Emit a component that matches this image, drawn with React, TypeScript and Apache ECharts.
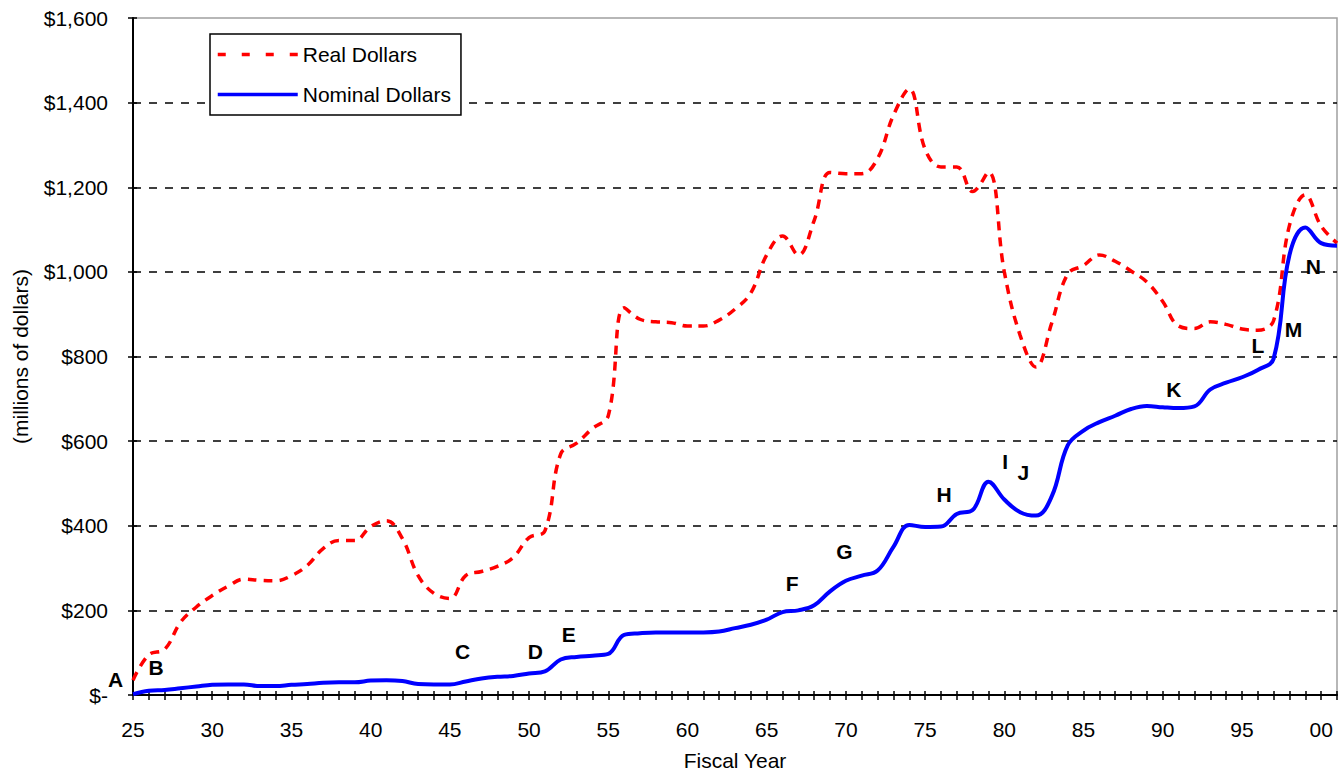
import { useEffect, useRef } from 'react';
import * as echarts from 'echarts';

const years = [
  1925, 1926, 1927, 1928, 1929, 1930, 1931, 1932, 1933, 1934,
  1935, 1936, 1937, 1938, 1939, 1940, 1941, 1942, 1943, 1944,
  1945, 1946, 1947, 1948, 1949, 1950, 1951, 1952, 1953, 1954,
  1955, 1956, 1957, 1958, 1959, 1960, 1961, 1962, 1963, 1964,
  1965, 1966, 1967, 1968, 1969, 1970, 1971, 1972, 1973, 1974,
  1975, 1976, 1977, 1978, 1979, 1980, 1981, 1982, 1983, 1984,
  1985, 1986, 1987, 1988, 1989, 1990, 1991, 1992, 1993, 1994,
  1995, 1996, 1997, 1998, 1999, 2000, 2001,
];

const realDollars = [
  35, 95, 108, 172, 208, 235, 257, 274, 271, 270,
  282, 306, 346, 365, 365, 398, 412, 370, 282, 240,
  228, 282, 292, 304, 325, 372, 388, 570, 595, 630,
  660, 915, 888, 882, 880, 872, 872, 886, 912, 950,
  1040, 1085, 1040, 1122, 1235, 1232, 1232, 1268, 1370, 1432,
  1290, 1248, 1248, 1190, 1236, 1000, 850, 775, 880, 995,
  1015, 1040, 1025, 1002, 976, 930, 872, 866, 882, 876,
  865, 862, 885, 1110, 1182, 1108, 1068,
];

const nominalDollars = [
  2, 10, 12, 16, 20, 24, 25, 25, 21, 21,
  24, 26, 29, 30, 30, 34, 35, 33, 26, 25,
  25, 32, 39, 43, 45, 51, 56, 84, 90, 93,
  97, 142, 146, 148, 148, 148, 148, 150, 158, 166,
  178, 196, 200, 212, 245, 270, 282, 294, 350, 402,
  397, 398, 428, 437, 504, 462, 432, 424, 470, 590,
  625, 645, 660, 676, 683, 680, 678, 682, 722, 738,
  751, 768, 795, 1040, 1105, 1068, 1062,
];

const noteLetters = ['A', 'B', 'C', 'D', 'E', 'F', 'G', 'H', 'I', 'J', 'K', 'L', 'M', 'N'];
const noteYears = [1923.9, 1926.45, 1945.8, 1950.4, 1952.5, 1966.6, 1969.9, 1976.2, 1980.05, 1981.2, 1990.7, 1996.0, 1998.25, 1999.5];
const noteValues = [37, 66, 103, 103, 143, 263, 338, 474, 551, 526, 723, 826, 864, 1012];

const yTicks = [0, 200, 400, 600, 800, 1000, 1200, 1400, 1600];

const FONT = 'Arial, "Liberation Sans", sans-serif';

export default function App() {
  const ref = useRef<HTMLDivElement>(null);

  useEffect(() => {
    if (!ref.current) return;
    const chart = echarts.init(ref.current, undefined, { renderer: 'svg' });

    const xLabel = (v: number) => (v % 5 === 0 && v <= 2000 ? String(v % 100).padStart(2, '0') : '');
    const yLabel = (v: number) => (v === 0 ? '$-' : '$' + v.toLocaleString('en-US'));

    const option: any = {
      animation: false,
      backgroundColor: '#ffffff',
      textStyle: { fontFamily: FONT },
      grid: {
        left: 133,
        top: 18,
        right: 5,
        bottom: 76,
        show: true,
        borderColor: '#a0a0a0',
        borderWidth: 1.5,
        backgroundColor: 'transparent',
      },
      legend: {
        orient: 'vertical',
        left: 210,
        top: 34,
        padding: [10, 10, 10, 6],
        itemWidth: 80,
        itemHeight: 20,
        itemGap: 19,
        borderColor: '#000',
        borderWidth: 1.5,
        borderRadius: 0,
        backgroundColor: '#ffffff',
        textStyle: { fontSize: 21, color: '#000', fontFamily: FONT },
        itemStyle: { opacity: 0 },
        data: [
          { name: 'Real Dollars', lineStyle: { type: [8, 16], width: 3.5 } },
          { name: 'Nominal Dollars', lineStyle: { width: 3.5 } },
        ],
      },
      xAxis: [
        {
          type: 'value',
          min: 1925,
          max: 2001,
          interval: 1,
          position: 'bottom',
          name: 'Fiscal Year',
          nameLocation: 'middle',
          nameGap: 55,
          nameTextStyle: { fontSize: 21, color: '#000', fontFamily: FONT },
          axisLine: { lineStyle: { color: '#000', width: 2 } },
          axisTick: { length: 5, lineStyle: { color: '#000', width: 1.5 } },
          axisLabel: { formatter: xLabel, fontSize: 21, color: '#000', margin: 24, fontFamily: FONT },
          splitLine: { show: false },
        },
        {
          type: 'value',
          min: 1925,
          max: 2001,
          interval: 1,
          position: 'bottom',
          axisLine: { show: false },
          axisTick: { inside: true, length: 4, lineStyle: { color: '#000', width: 1.5 } },
          axisLabel: { show: false },
          splitLine: { show: false },
        },
      ],
      yAxis: [
        {
          type: 'value',
          min: yTicks[0],
          max: yTicks[yTicks.length - 1],
          interval: 200,
          position: 'left',
          name: '(millions of dollars)',
          nameLocation: 'middle',
          nameGap: 102,
          nameRotate: 90,
          nameTextStyle: { fontSize: 21, color: '#000', fontFamily: FONT },
          axisLine: { show: true, lineStyle: { color: '#000', width: 2 } },
          axisTick: { show: true, length: 5, lineStyle: { color: '#000', width: 1.5 } },
          axisLabel: { formatter: yLabel, fontSize: 21, color: '#000', margin: 25, fontFamily: FONT },
          splitLine: {
            show: true,
            showMinLine: false,
            showMaxLine: false,
            lineStyle: { color: '#000', width: 1.6, type: [8, 8] },
          },
        },
        {
          type: 'value',
          min: yTicks[0],
          max: yTicks[yTicks.length - 1],
          interval: 200,
          position: 'left',
          axisLine: { show: false },
          axisTick: { show: true, inside: true, length: 4, lineStyle: { color: '#000', width: 1.5 } },
          axisLabel: { show: false },
          splitLine: { show: false },
        },
      ],
      series: [
        {
          name: 'Real Dollars',
          type: 'line',
          xAxisIndex: 0,
          yAxisIndex: 0,
          data: years.map((y, i) => [y, realDollars[i]]),
          smooth: 0.4,
          symbol: 'none',
          color: '#ff0000',
          lineStyle: { color: '#ff0000', width: 3.5, type: [9, 7] },
          z: 3,
        },
        {
          name: 'Nominal Dollars',
          type: 'line',
          xAxisIndex: 0,
          yAxisIndex: 0,
          data: years.map((y, i) => [y, nominalDollars[i]]),
          smooth: 0.4,
          symbol: 'none',
          color: '#0000ff',
          lineStyle: { color: '#0000ff', width: 4 },
          z: 4,
        },
        {
          name: 'notes',
          type: 'scatter',
          xAxisIndex: 0,
          yAxisIndex: 0,
          clip: false,
          silent: true,
          symbolSize: 1,
          itemStyle: { color: 'rgba(0,0,0,0)' },
          label: {
            show: true,
            position: 'inside',
            formatter: (p: any) => p.name,
            fontSize: 21,
            fontWeight: 'bold',
            color: '#000000',
            opacity: 1,
            textBorderWidth: 0,
            fontFamily: FONT,
          },
          data: noteLetters.map((l, i) => ({ name: l, value: [noteYears[i], noteValues[i]] })),
          z: 5,
        },
      ],
    };

    chart.setOption(option);
    return () => chart.dispose();
  }, []);

  return (
    <div
      ref={ref}
      style={{ position: 'absolute', left: 0, top: 0, width: 1342, height: 776, background: '#fff' }}
    />
  );
}
